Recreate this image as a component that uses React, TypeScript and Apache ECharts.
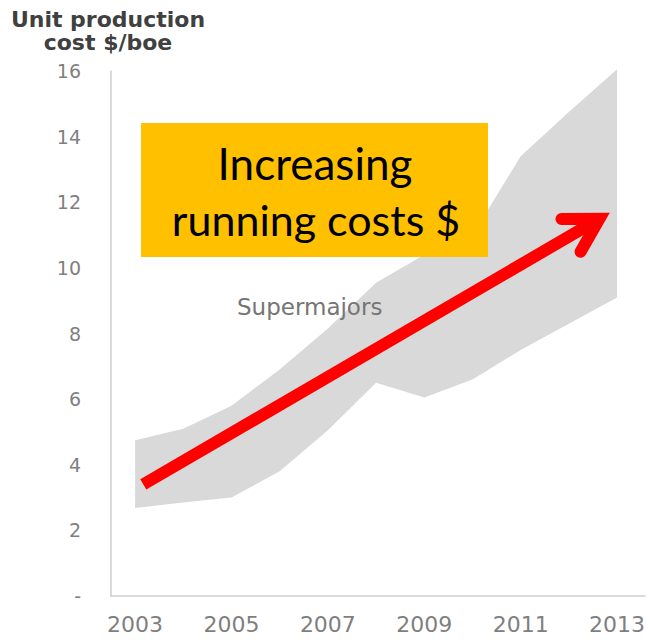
import React, { useEffect, useRef } from 'react';
import * as echarts from 'echarts';

// ---- data ----
const years = [2003, 2004, 2005, 2006, 2007, 2008, 2009, 2010, 2011, 2012, 2013];
const upperCost = [4.75, 5.1, 5.8, 6.9, 8.15, 9.55, 10.4, 11.0, 13.4, 14.75, 16.05];
const lowerCost = [2.68, 2.85, 3.0, 3.8, 5.05, 6.5, 6.05, 6.6, 7.5, 8.3, 9.1];
const xTickLabels = [2003, 2005, 2007, 2009, 2011, 2013];
const titleLines = ['Unit production', 'cost $/boe'];
const bandLabel = 'Supermajors';
const calloutLines = ['Increasing', 'running costs $'];
const arrowStart = [2003.17, 3.4];
const arrowEnd = [2012.85, 11.68];

export default function App() {
  const ref = useRef<HTMLDivElement>(null);
  useEffect(() => {
    if (!ref.current) return;
    const chart = echarts.init(ref.current, null, { renderer: 'svg' });
    chart.setOption({
      animation: false,
      backgroundColor: '#ffffff',
      grid: { left: 111, right: 9, top: 71, bottom: 44 },
      xAxis: {
        type: 'value',
        min: 2002.5,
        max: 2013.58,
        axisLine: { show: true, lineStyle: { color: '#cfcfcf', width: 1.5 } },
        axisTick: { show: false },
        splitLine: { show: false },
        axisLabel: {
          customValues: xTickLabels,
          color: '#7f7f7f',
          fontSize: 22,
          fontFamily: 'DejaVu Sans',
          margin: 17,
          formatter: (v: number) => String(v),
        },
      },
      yAxis: {
        type: 'value',
        min: 0,
        max: 16,
        interval: 2,
        axisLine: { show: true, lineStyle: { color: '#cfcfcf', width: 1.5 } },
        axisTick: { show: false },
        splitLine: { show: false },
        axisLabel: {
          color: '#7f7f7f',
          fontSize: 19,
          fontFamily: 'DejaVu Sans',
          margin: 30,
          formatter: (v: number) => (v === 0 ? '-' : String(v)),
        },
      },
      series: [
        {
          type: 'custom',
          data: [[years[0], upperCost[0]]],
          encode: { x: 0, y: 1 },
          renderItem: (params: any, api: any) => {
            const pts: number[][] = [];
            for (let i = 0; i < years.length; i++) pts.push(api.coord([years[i], upperCost[i]]));
            for (let i = years.length - 1; i >= 0; i--) pts.push(api.coord([years[i], lowerCost[i]]));
            return { type: 'polygon', shape: { points: pts }, style: { fill: '#d9d9d9' } };
          },
          z: 1,
        },
      ],
    });

    const p0 = chart.convertToPixel({ gridIndex: 0 }, arrowStart) as number[];
    const p1 = chart.convertToPixel({ gridIndex: 0 }, arrowEnd) as number[];
    const dx = p1[0] - p0[0];
    const dy = p1[1] - p0[1];
    const len = Math.sqrt(dx * dx + dy * dy);
    const ux = dx / len;
    const uy = dy / len;
    const w = 12;
    const vx = p1[0] - ux * 12;
    const vy = p1[1] - uy * 12;
    const armLen = 38;
    const ang = (30 * Math.PI) / 180;
    const rot = (x: number, y: number, a: number) => [x * Math.cos(a) - y * Math.sin(a), x * Math.sin(a) + y * Math.cos(a)];
    const a1 = rot(-ux, -uy, ang);
    const a2 = rot(-ux, -uy, -ang);

    chart.setOption({
      graphic: [
        {
          type: 'text',
          x: 108,
          y: 19,
          style: {
            text: titleLines[0],
            fill: '#404040',
            font: 'bold 22px "DejaVu Sans"',
            align: 'center',
            verticalAlign: 'middle',
          },
        },
        {
          type: 'text',
          x: 108,
          y: 42,
          style: {
            text: titleLines[1],
            fill: '#404040',
            font: 'bold 22px "DejaVu Sans"',
            align: 'center',
            verticalAlign: 'middle',
          },
        },
        {
          type: 'text',
          x: 237,
          y: 307,
          z: 5,
          style: {
            text: bandLabel,
            fill: '#757575',
            font: '23px "DejaVu Sans"',
            align: 'left',
            verticalAlign: 'middle',
          },
        },
        {
          type: 'rect',
          z: 10,
          shape: { x: 141, y: 123, width: 347, height: 134 },
          style: { fill: '#ffc000' },
        },
        {
          type: 'text',
          z: 11,
          x: 315,
          y: 163,
          style: {
            text: calloutLines[0],
            fill: '#000000',
            font: '44px Lato',
            align: 'center',
            verticalAlign: 'middle',
          },
        },
        {
          type: 'text',
          z: 11,
          x: 316,
          y: 219,
          style: {
            text: calloutLines[1],
            fill: '#000000',
            font: '43px Lato',
            align: 'center',
            verticalAlign: 'middle',
          },
        },
        {
          type: 'line',
          z: 20,
          shape: { x1: p0[0], y1: p0[1], x2: vx, y2: vy },
          style: { stroke: '#ff0000', lineWidth: w, lineCap: 'butt' },
        },
        {
          type: 'polyline',
          z: 21,
          shape: {
            points: [
              [vx + a1[0] * armLen, vy + a1[1] * armLen],
              [vx, vy],
              [vx + a2[0] * armLen, vy + a2[1] * armLen],
            ],
          },
          style: { stroke: '#ff0000', lineWidth: w, lineCap: 'round', lineJoin: 'miter', miterLimit: 10, fill: null },
        },
      ],
    });

    return () => chart.dispose();
  }, []);
  return <div ref={ref} style={{ width: 654, height: 640, margin: -8 }} />;
}
